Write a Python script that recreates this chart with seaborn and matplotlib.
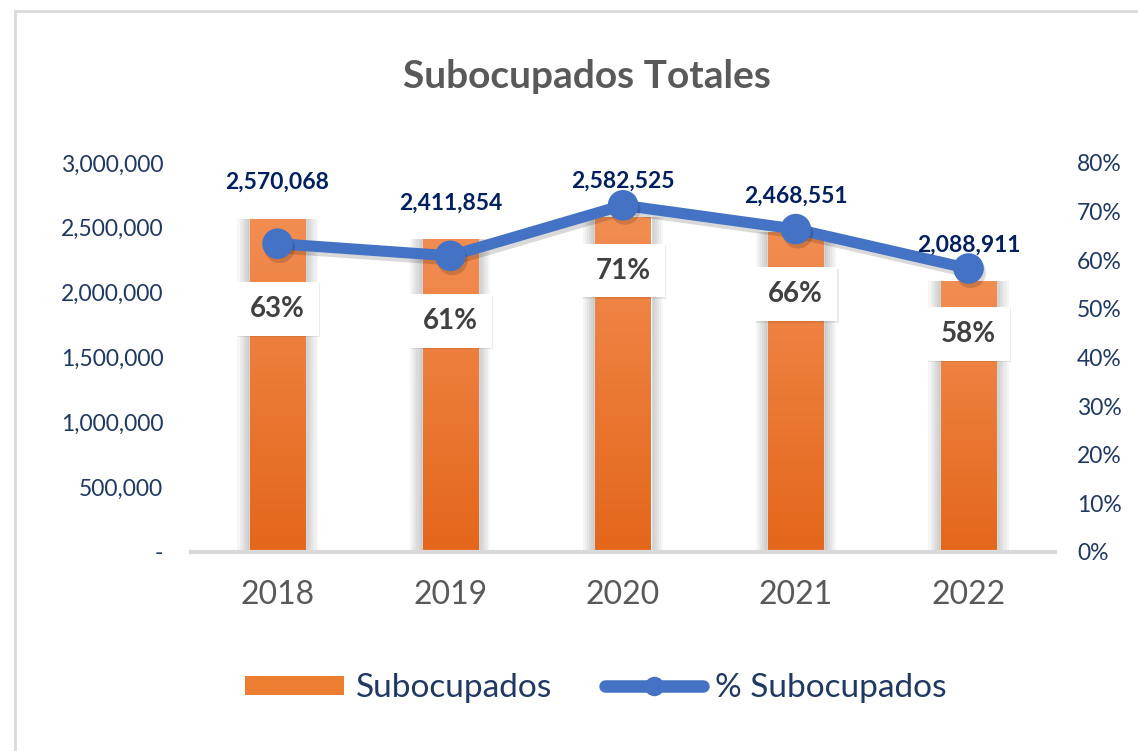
import matplotlib
matplotlib.use('Agg')
import matplotlib.pyplot as plt
import matplotlib.patheffects as pe
import numpy as np
import pandas as pd
import seaborn as sns
from matplotlib.colors import LinearSegmentedColormap
from matplotlib.lines import Line2D
from matplotlib.patches import Patch, Rectangle

# data
years = ['2018', '2019', '2020', '2021', '2022']
subocupados = [2570068, 2411854, 2582525, 2468551, 2088911]
pct_subocupados = [63.4, 60.9, 71.3, 66.4, 58.3]

df = pd.DataFrame({'year': years, 'subocupados': subocupados, 'pct': pct_subocupados})

ORANGE = '#ED7D31'
BLUE = '#4472C4'
NAVY = '#1F3864'
DARK_NAVY = '#002060'
GRAY = '#595959'

sns.set_theme(style='white')
plt.rcParams['font.family'] = ['Lato', 'DejaVu Sans']

fig = plt.figure(figsize=(11.38, 7.51), dpi=100)
ax = fig.add_axes([0.168, 0.265, 0.759, 0.518])

sns.barplot(data=df, x='year', y='subocupados', color=ORANGE, width=0.32,
            saturation=1, ax=ax)

# soft shadow + vertical gradient on the bars
cmap = LinearSegmentedColormap.from_list('bar', ['#F28D52', '#E4661A'])
grad = np.linspace(0, 1, 256).reshape(-1, 1)
for p in list(ax.patches):
    x0, y0 = p.get_x(), p.get_y()
    w, h = p.get_width(), p.get_height()
    for k in range(1, 7):
        d = 0.012 * k
        ax.add_patch(Rectangle((x0 - d, y0), w + 2 * d, h, facecolor='black',
                               edgecolor='none', alpha=0.035, zorder=0.5))
    im = ax.imshow(grad, cmap=cmap, aspect='auto', origin='upper',
                   extent=(x0, x0 + w, y0, y0 + h), zorder=p.get_zorder() + 0.1)
    im.set_clip_path(p)

ax.set_xlim(-0.5, 4.5)
ax.set_ylim(0, 3_000_000)
ax.set_yticks(np.arange(0, 3_000_001, 500_000))
ax.set_yticklabels(['-' if v == 0 else f'{v:,.0f}' for v in ax.get_yticks()])
ax.tick_params(axis='y', length=0, pad=20, labelsize=16.5, labelcolor=NAVY)
ax.tick_params(axis='x', length=0, pad=20, labelsize=23, labelcolor=GRAY)
ax.set_xlabel('')
ax.set_ylabel('')
for s in ['top', 'right', 'left']:
    ax.spines[s].set_visible(False)
ax.spines['bottom'].set_color('#D9D9D9')
ax.spines['bottom'].set_linewidth(3)
ax.spines['bottom'].set_zorder(3)

ax2 = ax.twinx()
sns.pointplot(data=df, x='year', y='pct', color=BLUE, markers='o',
              markersize=16, linewidth=8, errorbar=None, ax=ax2,
              path_effects=[pe.SimpleLineShadow(offset=(1.5, -3), alpha=0.15, shadow_color='black'),
                            pe.Normal()])
ax2.set_xlim(-0.5, 4.5)
ax2.set_ylim(0, 80)
ax2.set_yticks(np.arange(0, 81, 10))
ax2.set_yticklabels([f'{v:.0f}%' for v in ax2.get_yticks()])
ax2.tick_params(axis='y', length=0, pad=16, labelsize=16.5, labelcolor=NAVY)
ax2.set_ylabel('')
ax2.set_xlabel('')
for s in ax2.spines.values():
    s.set_visible(False)
ax2.grid(False)
ax.grid(False)

# data labels (drawn on the line axis so they sit on top)
for i, (v, pc) in enumerate(zip(subocupados, pct_subocupados)):
    ax2.annotate(f'{v:,}', (i, v / 3_000_000 * 80), xytext=(0, 26),
                 textcoords='offset points', ha='center', va='center',
                 fontsize=16.5, fontweight='bold', color=DARK_NAVY, zorder=10,
                 annotation_clip=False)
    t = ax2.annotate(f'{pc:.0f}%', (i, pc), xytext=(0, -47), textcoords='offset points',
                     ha='center', va='center', fontsize=20, fontweight='bold', color='#404040',
                     bbox=dict(boxstyle='square,pad=0.5', fc='white', ec='none'), zorder=10)
    t.get_bbox_patch().set_path_effects([
        pe.SimplePatchShadow(offset=(1, -1), alpha=0.08, shadow_rgbFace='black'), pe.Normal()])

fig.text(587 / 1138, 1 - 76 / 751, 'Subocupados Totales', ha='center', va='center',
         fontsize=28, fontweight='bold', color=GRAY)

handles = [Patch(facecolor=ORANGE, edgecolor='none'),
           Line2D([0], [0], color=BLUE, lw=9, marker='o', markersize=13,
                  solid_capstyle='round')]
fig.legend(handles, ['Subocupados', '% Subocupados'], loc='center',
           bbox_to_anchor=(596 / 1138, 1 - 688 / 751), ncol=2, frameon=False,
           fontsize=24, labelcolor=NAVY, handlelength=2.95, handleheight=0.5,
           handletextpad=0.35, columnspacing=1.6)

# chart border
fig.add_artist(Line2D([15 / 1138, 15 / 1138], [0, 1 - 11 / 751],
                      transform=fig.transFigure, color='#D9D9D9', lw=2))
fig.add_artist(Line2D([15 / 1138, 1], [1 - 11 / 751, 1 - 11 / 751],
                      transform=fig.transFigure, color='#D9D9D9', lw=2))

fig.savefig('out.png', dpi=100)
